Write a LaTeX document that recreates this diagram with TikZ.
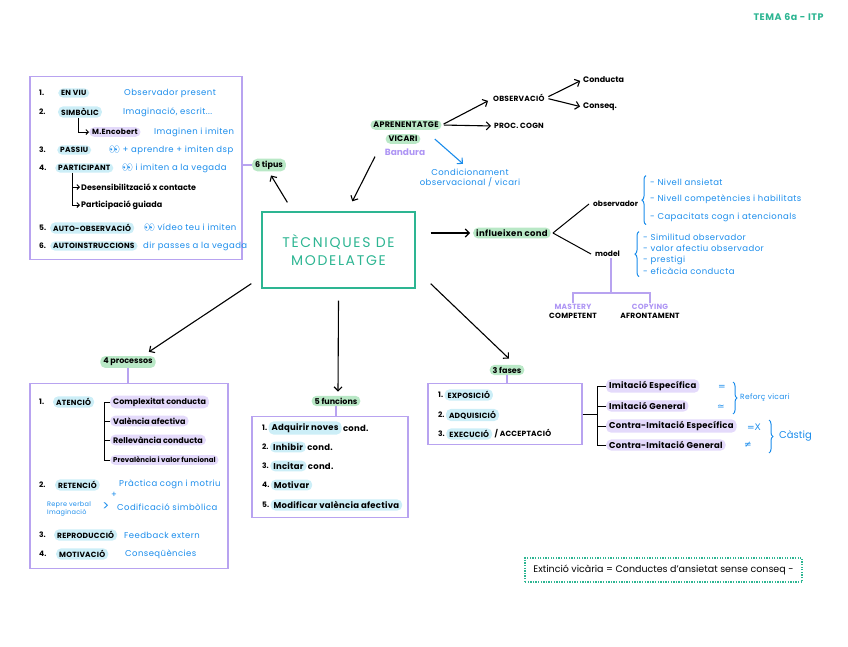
\documentclass[tikz,border=0pt]{standalone}
\usepackage{fontspec}
\setmainfont{Poppins}
\newfontfamily\symfont{DejaVu Sans}
\newfontfamily\emojifont{Noto Emoji}
\usetikzlibrary{arrows.meta,positioning,calc,decorations.pathreplacing}

\definecolor{mapteal}{HTML}{2DB592}
\definecolor{lavline}{HTML}{B8A3F0}
\definecolor{lavtext}{HTML}{AE95F4}
\definecolor{penblue}{HTML}{1A8CEB}
\definecolor{softgreen}{HTML}{B9E8C6}
\definecolor{softblue}{HTML}{CCEEF7}
\definecolor{softviolet}{HTML}{E4DAFB}

\newcommand{\eyes}{{\emojifont 👀}}

\tikzset{
  pen/.style={anchor=west, inner sep=1pt, font=\fontsize{8}{10}\selectfont\bfseries},
  bigpen/.style={pen, font=\fontsize{8.5}{10}\selectfont\bfseries\addfontfeature{LetterSpace=3}},
  num/.style={pen, font=\fontsize{7.5}{9}\selectfont\bfseries},
  caps/.style={pen, font=\fontsize{7.5}{9}\selectfont\bfseries\addfontfeature{LetterSpace=3}},
  note/.style={pen, text=penblue, font=\fontsize{8.5}{10}\selectfont\addfontfeature{LetterSpace=5}},
  greenpill/.style={fill=softgreen, rounded corners=5pt, inner xsep=3pt, inner ysep=2pt},
  bluepill/.style={fill=softblue, rounded corners=5pt, inner xsep=3pt, inner ysep=2pt},
  violetpill/.style={fill=softviolet, rounded corners=5pt, inner xsep=3pt, inner ysep=2pt},
  frame/.style={draw=lavline, line width=1.3pt},
  link/.style={draw=lavline, line width=1.3pt},
  arrow/.style={-{Straight Barb[length=4pt,width=8pt]}, line width=1.1pt},
  smallarrow/.style={-{Straight Barb[length=2.5pt,width=5pt]}, line width=0.9pt},
  bluearrow/.style={arrow, draw=penblue},
  branch/.style={line width=1pt},
  brace/.style={decorate, decoration={brace, amplitude=4pt}, draw=penblue, line width=1pt}
}

\begin{document}
\begin{tikzpicture}[x=1pt, y=-1pt]
\useasboundingbox (0,0) rectangle (848,646);

\node[text=mapteal, anchor=west, font=\fontsize{9.5}{11}\selectfont\bfseries\addfontfeature{LetterSpace=6}] (tema) at (750,17) {TEMA 6a - ITP};

% Central node
\node[draw=mapteal, line width=1.3pt, minimum width=153pt, minimum height=76pt,
  text=mapteal, align=center, font=\fontsize{14}{18}\selectfont\addfontfeature{LetterSpace=12}] (center) at (338.5,250)
  {TÈCNIQUES DE\\MODELATGE};

% 6 tipus
\node[frame, minimum width=212pt, minimum height=183pt] (tipusbox) at (136,168) {};
\node[pen, greenpill] (tipus) at (252,165) {6 tipus};
\draw[link] (tipusbox.east |- tipus.west) -- (tipus.west);
\draw[arrow] ([xshift=26pt,yshift=9pt]center.north west) -- ([xshift=2pt,yshift=-4pt]tipus.south);

\node[num] (t1) at (38,93) {1.};
\node[caps, bluepill] (enviu) at (58,93) {EN VIU};
\node[note] (enviunote) at (123,93) {Observador present};
\node[num] (t2) at (38,112) {2.};
\node[caps, bluepill] (simbolic) at (58,112) {SIMBÒLIC};
\node[note] (simbolicnote) at (122,112) {Imaginació, escrit...};
\node[caps, violetpill] (encobert) at (89,132) {M.Encobert};
\node[note] (encobertnote) at (153,132) {Imaginen i imiten};
\draw[smallarrow] ([xshift=20pt]simbolic.south west) |- (encobert.west);
\node[num] (t3) at (38,150) {3.};
\node[caps, bluepill] (passiu) at (57,150) {PASSIU};
\node[note] (passiunote) at (108,150) {\eyes{} + aprendre + imiten dsp};
\node[num] (t4) at (38,168) {4.};
\node[caps, bluepill] (participant) at (55,168) {PARTICIPANT};
\node[note] (participantnote) at (121,168) {\eyes{} i imiten a la vegada};
\node[pen] (desens) at (80,187) {Desensibilització x contacte};
\node[pen] (guiada) at (80,205) {Participació guiada};
\draw[smallarrow] ([xshift=17pt]participant.south west) |- (desens.west);
\draw[smallarrow] ([xshift=17pt]participant.south west) |- (guiada.west);
\node[num] (t5) at (38,228) {5.};
\node[caps, bluepill] (autoobs) at (50,228) {AUTO-OBSERVACIÓ};
\node[note] (autoobsnote) at (143,228) {\eyes{} vídeo teu i imiten};
\node[num] (t6) at (38,246) {6.};
\node[caps, bluepill] (autoinst) at (50,246) {AUTOINSTRUCCIONS};
\node[note] (autoinstnote) at (142,246) {dir passes a la vegada};

% Aprenentatge vicari
\node[caps, greenpill, anchor=center, font=\fontsize{8}{9}\selectfont\bfseries\addfontfeature{LetterSpace=3}] (aprenentatge) at (406,125) {APRENENTATGE};
\node[caps, greenpill, anchor=center, font=\fontsize{8}{9}\selectfont\bfseries\addfontfeature{LetterSpace=3}] (vicari) at (403,139) {VICARI};
\node[anchor=center, text=lavtext, font=\fontsize{9}{10}\selectfont\bfseries, inner sep=1pt] (bandura) at (405,152) {Bandura};
\draw[arrow] ([xshift=-30pt]bandura.south) -- ([xshift=91pt,yshift=10pt]center.north west);
\node[caps] (observacio) at (492,98) {OBSERVACIÓ};
\node[caps] (proc) at (493,126) {PROC. COGN};
\draw[arrow, shorten <=2pt] (aprenentatge.east) -- ([xshift=-4pt,yshift=2pt]observacio.south west);
\draw[arrow, shorten <=2pt, shorten >=2pt] (aprenentatge.east) -- (proc.west);
\node[pen] (conducta) at (582,80) {Conducta};
\node[pen] (conseq) at (582,107) {Conseq.};
\draw[arrow, shorten <=3pt, shorten >=2pt] (observacio.east) -- (conducta.west);
\draw[arrow, shorten <=3pt, shorten >=2pt] (observacio.east) -- (conseq.west);
\node[note, anchor=center, align=center] (condicionament) at (470,178) {Condicionament\\observacional / vicari};
\draw[bluearrow] ([xshift=-7pt,yshift=-9pt]aprenentatge.south east) -- ([xshift=-7pt,yshift=4pt]condicionament.north);

% Influeixen
\node[pen, greenpill, font=\fontsize{8.5}{10}\selectfont\bfseries\addfontfeature{LetterSpace=4}] (influeixen) at (473,233) {influeixen cond};
\draw[arrow] ([xshift=15pt,yshift=17pt]center.east) -- ([xshift=-3pt]influeixen.west);
\node[pen, font=\fontsize{7.5}{9}\selectfont\bfseries] (observador) at (592,204) {observador};
\node[pen, font=\fontsize{7.5}{9}\selectfont\bfseries] (model) at (594,254) {model};
\draw[branch] ([xshift=2pt]influeixen.east) -- ([xshift=-3pt]observador.west);
\draw[branch] ([xshift=2pt]influeixen.east) -- ([xshift=-3pt]model.west);
\node[note] (ansietat) at (649,182) {- Nivell ansietat};
\node[note] (competencies) at (649,199) {- Nivell competències i habilitats};
\node[note] (capacitats) at (649,217) {- Capacitats cogn i atencionals};
\draw[brace] ([xshift=-3pt,yshift=-2pt]capacitats.south west) -- ([xshift=-3pt,yshift=2pt]ansietat.north west);
\node[note] (similitud) at (642,237) {- Similitud observador};
\node[note] (valor) at (642,248) {- valor afectiu observador};
\node[note] (prestigi) at (642,260) {- prestigi};
\node[note] (eficacia) at (642,271) {- eficàcia conducta};
\draw[brace] ([xshift=-3pt,yshift=-1pt]eficacia.south west) -- ([xshift=-3pt,yshift=1pt]similitud.north west);
\node[caps, anchor=north, align=center] (mastery) at (573,303) {\textcolor{lavtext}{MASTERY}\\COMPETENT};
\node[caps, anchor=north, align=center] (copying) at (650,303) {\textcolor{lavtext}{COPYING}\\AFRONTAMENT};
\coordinate (split) at (611,293);
\draw[link] (model.south -| split) -- (split);
\draw[link] (mastery.north) |- (split) -| (copying.north);

% 4 processos
\node[pen, greenpill, anchor=center] (processos) at (128,362) {4 processos};
\draw[arrow] ([xshift=-10pt,yshift=5pt]center.south west) -- ([xshift=-7pt,yshift=4pt]processos.north east);
\node[frame, minimum width=198pt, minimum height=185pt] (processbox) at (129,476) {};
\draw[link] (processos.south) -- (processos.south |- processbox.north);
\node[num] (p1) at (38,402) {1.};
\node[caps, bluepill] (atencio) at (53,402) {ATENCIÓ};
\node[pen, violetpill] (complexitat) at (110,402) {Complexitat conducta};
\node[pen, violetpill] (valencia) at (110,421) {València afectiva};
\node[pen, violetpill] (rellevancia) at (110,440) {Rellevància conducta};
\node[pen, violetpill, font=\fontsize{7}{8}\selectfont\bfseries] (prevalencia) at (110,460) {Prevalència i valor funcional};
\coordinate (atenciofork) at ([xshift=-6pt]complexitat.west);
\draw[branch] (complexitat.west) -- (atenciofork) |- (prevalencia.west);
\draw[branch] (atenciofork |- valencia.west) -- (valencia.west);
\draw[branch] (atenciofork |- rellevancia.west) -- (rellevancia.west);
\node[num] (p2) at (38,485) {2.};
\node[caps, bluepill] (retencio) at (55,485) {RETENCIÓ};
\node[note] (practica) at (118,484) {Pràctica cogn i motriu};
\node[note, anchor=center] (mes) at (114,495) {+};
\node[note, align=left, font=\fontsize{6.5}{8.5}\selectfont\addfontfeature{LetterSpace=4}] (repre) at (46,509) {Repre verbal\\Imaginació};
\node[note, anchor=center, font=\fontsize{13}{13}\selectfont] (cap) at (106,507) {>};
\node[note] (codificacio) at (116,507) {Codificació simbòlica};
\node[num] (p3) at (38,535) {3.};
\node[caps, bluepill] (reproduccio) at (54,535) {REPRODUCCIÓ};
\node[note] (feedback) at (123,535) {Feedback extern};
\node[num] (p4) at (38,554) {4.};
\node[caps, bluepill] (motivacio) at (56,554) {MOTIVACIÓ};
\node[note] (consequencies) at (124,554) {Conseqüències};

% 5 funcions
\node[pen, greenpill, anchor=center] (funcions) at (336,401) {5 funcions};
\draw[arrow] ([yshift=-12pt]center.south) -- ([xshift=2pt,yshift=4pt]funcions.north);
\node[frame, minimum width=156pt, minimum height=101pt] (funcionsbox) at (330,467) {};
\draw[link] (funcions.south) -- (funcions.south |- funcionsbox.north);
\node[num] (f1) at (261,428) {1.};
\node[bigpen, bluepill, right=0pt of f1] (adquirir) {Adquirir noves};
\node[bigpen, right=0pt of adquirir] {cond.};
\node[num] (f2) at (261,447) {2.};
\node[bigpen, bluepill, right=0pt of f2] (inhibir) {Inhibir};
\node[bigpen, right=0pt of inhibir] {cond.};
\node[num] (f3) at (261,466) {3.};
\node[bigpen, bluepill, right=0pt of f3] (incitar) {Incitar};
\node[bigpen, right=0pt of incitar] {cond.};
\node[num] (f4) at (261,485) {4.};
\node[bigpen, bluepill, right=0pt of f4] (motivar) {Motivar};
\node[num] (f5) at (261,505) {5.};
\node[bigpen, bluepill, right=0pt of f5] (modificar) {Modificar valència afectiva};

% 3 fases
\node[pen, greenpill, anchor=center] (fases) at (507,370) {3 fases};
\draw[arrow] ([xshift=15pt,yshift=5pt]center.south east) -- ([xshift=2pt,yshift=6pt]fases.north);
\node[frame, minimum width=154pt, minimum height=61pt] (fasesbox) at (505,414) {};
\draw[link] (fases.south) -- (fases.south |- fasesbox.north);
\node[num] (s1) at (437,395) {1.};
\node[caps, bluepill, right=0pt of s1] (exposicio) {EXPOSICIÓ};
\node[num] (s2) at (437,415) {2.};
\node[caps, bluepill, right=0pt of s2] (adquisicio) {ADQUISICIÓ};
\node[num] (s3) at (437,434) {3.};
\node[caps, bluepill, right=0pt of s3] (execucio) {EXECUCIÓ};
\node[caps, right=1pt of execucio] (acceptacio) {/ ACCEPTACIÓ};

\node[bigpen, violetpill] (imitesp) at (606,386) {Imitació Específica};
\node[bigpen, violetpill] (imitgen) at (606,406) {Imitació General};
\node[bigpen, violetpill] (contraesp) at (606,426) {Contra-Imitació Específica};
\node[bigpen, violetpill] (contragen) at (606,445) {Contra-Imitació General};
\draw[branch] (fasesbox.east) -- ++(15pt,0);
\draw[branch] (imitesp.west) -- ++(-9pt,0) |- (contragen.west);
\draw[branch] (imitgen.west) -- ++(-9pt,0);
\draw[branch] (contraesp.west) -- ++(-9pt,0);
\node[note, anchor=center, font=\fontsize{9}{10}\selectfont\symfont] (eqa) at (722,387) {=};
\node[note, anchor=center, font=\fontsize{9}{10}\selectfont\symfont] (eqb) at (721,407) {≃};
\node[note, anchor=center, font=\fontsize{9}{10}\selectfont\symfont] (eqc) at (754,427) {=X};
\node[note, anchor=center, font=\fontsize{9}{10}\selectfont\symfont] (eqd) at (748,445) {≠};
\draw[brace] (733,382) -- (733,414);
\node[note, font=\fontsize{7.5}{9}\selectfont\addfontfeature{LetterSpace=4}] (reforc) at (739,398) {Reforç vicari};
\draw[brace] (769,420) -- (769,453);
\node[note, font=\fontsize{10}{12}\selectfont] (castig) at (778,436) {Càstig};

% Extinció
\node[draw=mapteal, line width=1.4pt, dash pattern=on 1.3pt off 1.3pt, minimum width=277pt, minimum height=24pt,
  font=\fontsize{9.5}{11}\selectfont] (extincio) at (663.5,570)
  {Extinció vicària = Conductes d'ansietat sense conseq -};

\end{tikzpicture}
\end{document}
